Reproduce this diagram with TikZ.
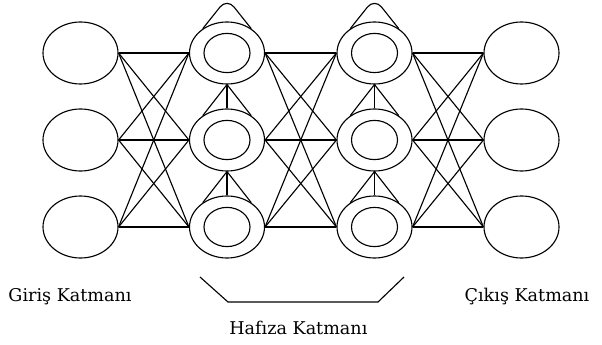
\documentclass[tikz,border=0pt]{standalone}
\usepackage{fontspec}
\setmainfont{DejaVu Serif}
\usetikzlibrary{shapes.geometric}
\begin{document}
\begin{tikzpicture}[line width=0.8pt, every node/.style={font=\fontsize{12.5}{15}\selectfont}]
        \useasboundingbox (0,0) rectangle (15.05,8.6);
        \tikzset{
            unit/.style={ellipse, draw, minimum width=1.875cm, minimum height=1.55cm, inner sep=0pt},
            core/.style={ellipse, draw, minimum width=1.15cm, minimum height=0.98cm, inner sep=0pt}
        }
        \foreach \row/\height in {1/7.275,2/5.1,3/2.925} {
            \node[unit] (input-\row) at (2.0125,\height) {};
            \node[unit] (output-\row) at (13.0375,\height) {};
            \foreach \layer/\offset in {a/5.675,b/9.3625} {
                \node[unit] (memory-\layer-\row) at (\offset,\height) {};
                \node[core] (core-\layer-\row) at (memory-\layer-\row) {};
            }
        }
        \foreach \from/\to in {input/memory-a,memory-a/memory-b,memory-b/output}
            \foreach \i in {1,2,3}
                \foreach \j in {1,2,3}
                    \draw (\from-\i.east) -- (\to-\j.west);
        \foreach \layer in {a,b} {
            \coordinate (apex-\layer) at ([yshift=0.58cm]memory-\layer-1.north);
            \draw[rounded corners=8pt] (memory-\layer-1.135) -- (apex-\layer) -- (memory-\layer-1.45);
            \foreach \row/\next in {1/2,2/3} {
                \draw (memory-\layer-\row.south) -- (memory-\layer-\next.north);
                \draw (memory-\layer-\next.135) -- (memory-\layer-\row.south) -- (memory-\layer-\next.45);
            }
        }
        \draw (5.0,1.675) -- (5.7,1.05) -- (9.45,1.05) -- (10.1,1.675);
        \node (input-label) at (1.75,1.175) {Giriş Katmanı};
        \node (memory-label) at (7.46,0.4) {Hafıza Katmanı};
        \node (output-label) at (13.175,1.175) {Çıkış Katmanı};
    \end{tikzpicture}
\end{document}
